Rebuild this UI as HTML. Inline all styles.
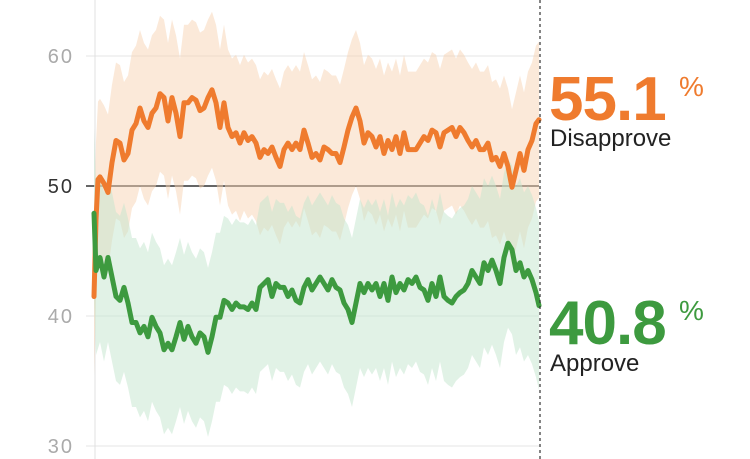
<!DOCTYPE html>
<html><head><meta charset="utf-8"><style>
html,body{margin:0;padding:0;background:#fff;}
svg{display:block;font-family:"Liberation Sans",sans-serif;}
</style></head><body>
<svg id="chart" width="750" height="459" viewBox="0 0 750 459">
<g id="grid"></g>
<g id="bands"></g>
<g id="lines"></g>
<g id="labels">
  <text x="549" y="120" font-size="62" font-weight="bold" fill="#ef7b2e" letter-spacing="-1">55.1</text>
  <text x="679" y="96" font-size="28" fill="#ef7b2e">%</text>
  <text x="550" y="146" font-size="24" fill="#222">Disapprove</text>
  <text x="549" y="344" font-size="62" font-weight="bold" fill="#3d9a3f" letter-spacing="-1">40.8</text>
  <text x="679" y="320" font-size="28" fill="#3d9a3f">%</text>
  <text x="550" y="371" font-size="24" fill="#222">Approve</text>
</g>
</svg>
<script>
const days=[0,2,4,6,10,14,18,22,26,30,34,38,42,46,50,54,58,62,66,70,74,78,82,86,90,94,98,102,106,110,114,118,122,126,130,134,138,142,146,150,154,158,162,166,170,174,178,182,186,190,194,198,202,206,210,214,218,222,226,230,234,238,242,246,250,254,258,262,266,270,274,278,282,286,290,294,298,302,306,310,314,318,322,326,330,334,338,342,346,350,354,358,362,366,370,374,378,382,386,390,394,398,402,406,410,414,418,422,426,430,434,438,442,445];
const disapprove=[41.5,47.4,50.5,50.7,50.2,49.5,51.8,53.5,53.3,52,52.5,54.3,54.8,56,55,54.5,55.6,56,57.1,56.8,55,56.8,55.6,53.8,56.4,56.4,56.8,56.6,55.8,56,56.8,57.4,56.4,54.5,56.4,54.5,53.8,54.1,53.3,54.1,53.5,53.8,53.3,52.2,52.8,52.5,53,52.2,51.5,52.8,53.3,52.8,53.3,52.8,54.3,53.3,52.2,52.5,52,53,52.8,52.5,52.5,51.8,53,54.3,55.3,56,55,53.3,54.1,53.8,53,53.8,52.5,53.5,52.8,53.8,52.5,54.1,52.8,52.8,52.8,53.3,53.8,53.5,54.3,54.1,53,54.1,54.3,54.5,53.8,54.5,54.1,53.5,53,53.5,52.8,52.8,53.3,52,52.2,51.5,52.5,51.5,49.9,51.2,52.5,51.2,52.8,53.5,54.8,55.1];
const approve=[47.9,43.5,44,44.5,43,44.5,43,41.5,41.2,42.2,41,39.5,39.5,38.7,39.2,38.4,39.9,39.2,38.7,37.4,37.9,37.4,38.4,39.5,38.2,39.2,38.4,37.9,38.7,38.4,37.2,38.4,39.9,39.9,41.2,41,40.5,41,40.7,40.7,40.5,41,40.5,42.2,42.5,42.8,41.5,42.5,42.2,42.2,41.5,42,41.2,41,42.2,42.8,42,42.5,43,42.5,42,42.8,42.2,42,41,40.5,39.5,41,42.5,41.8,42.5,42,42.5,41.5,42.5,41.2,43,41.8,42.5,42,42.8,42.5,43,42.2,42,41.2,42.5,41.5,43,41.5,41.2,41,41.5,41.8,42,42.5,43.5,43,42.5,44.1,43.5,44.3,43.5,42.5,44.5,45.6,45.1,43.5,44.1,43,43.5,42.8,41.8,40.8];
const yTicks=[30,40,50,60];
const bandHalf=[6,6.5];

const X0=94,X1=539,DMAX=445;
const xs=d=>X0+(d/DMAX)*(X1-X0);
const ys=v=>186-(v-50)*13;
const NS="http://www.w3.org/2000/svg";
function mk(tag,attrs,parent){const e=document.createElementNS(NS,tag);for(const k in attrs)e.setAttribute(k,attrs[k]);parent.appendChild(e);return e;}
const grid=document.getElementById('grid'),bands=document.getElementById('bands'),lines=document.getElementById('lines');

yTicks.forEach(t=>{
  const l=mk('line',{x1:86,x2:X1,y1:ys(t),y2:ys(t),stroke:t===50?'#333':'#e4e4e4','stroke-width':t===50?1.5:1},grid);
  
  
  const tx=mk('text',{x:74,y:ys(t)+7,'text-anchor':'end','font-size':20,fill:t===50?'#333':'#aaa','letter-spacing':'2'},grid);
  tx.textContent=t;
  
  
});
const ax=mk('line',{x1:95,x2:95,y1:0,y2:459,stroke:'#e0e0e0','stroke-width':1},grid);



function band(vals,half,color,name){
  let top=vals.map((v,i)=>xs(days[i])+','+ys(v+half));
  let bot=vals.map((v,i)=>xs(days[i])+','+ys(v-half)).reverse();
  const p=mk('polygon',{points:top.concat(bot).join(' '),fill:color,'fill-opacity':0.5},bands);
  
  
}
band(disapprove,bandHalf[0],'#f8d3b4','disapprove-band');
band(approve,bandHalf[1],'#c4e6cd','approve-band');

function line(vals,color,name){
  const d=vals.map((v,i)=>(i?'L':'M')+xs(days[i]).toFixed(1)+','+ys(v).toFixed(1)).join(' ');
  const p=mk('path',{d:d,fill:'none',stroke:color,'stroke-width':5,'stroke-linejoin':'round','stroke-linecap':'round'},lines);
  
  
}
line(disapprove,'#ef7b2e','disapprove-line');
line(approve,'#3d9a3f','approve-line');

const vl=mk('line',{x1:540,x2:540,y1:0,y2:459,stroke:'#333','stroke-width':1.2,'stroke-dasharray':'3,3'},lines);


</script>
</body></html>
